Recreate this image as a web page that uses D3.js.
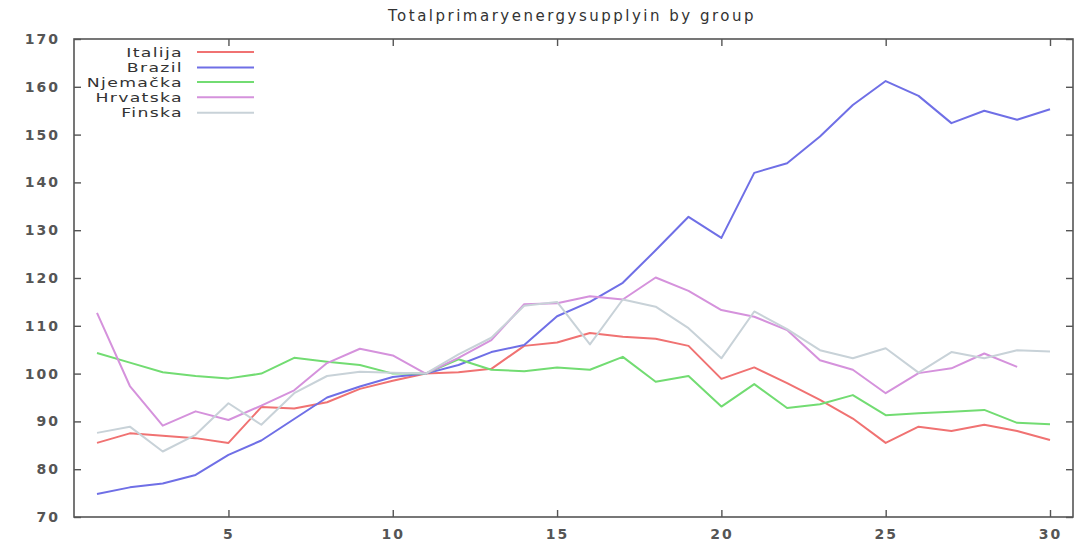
<!DOCTYPE html>
<html><head><meta charset="utf-8">
<script src="https://cdn.jsdelivr.net/npm/d3@7"></script>
<style>
body{margin:0;background:#fff;}
svg text{font-family:"DejaVu Sans",sans-serif;fill:#444;}
</style></head>
<body><svg id="c" width="1084" height="542"></svg>
<script>
const title = "Totalprimaryenergysupplyin by group";
const years = d3.range(1, 31);
const seriesNames = ["Italija", "Brazil", "Njemačka", "Hrvatska", "Finska"];
const italija = [85.5,87.5,87,86.5,85.5,93,92.7,94,96.8,98.5,100,100.3,101,105.8,106.5,108.5,107.7,107.3,105.8,98.9,101.3,98,94.5,90.6,85.5,88.9,88,89.3,88,86.1];
const brazil = [74.8,76.2,77,78.8,83,86,90.5,95,97.3,99.3,100,101.8,104.5,106,112,115,119,125.8,132.8,128.4,142,144,149.6,156.2,161.2,158.1,152.4,155,153.1,155.3];
const njemacka = [104.3,102.3,100.3,99.5,99,100,103.3,102.5,101.8,100,100,103,100.8,100.5,101.3,100.8,103.5,98.3,99.5,93.1,97.8,92.8,93.6,95.5,91.3,91.7,92,92.4,89.7,89.4];
const hrvatska = [112.7,97.4,89.1,92.1,90.3,93.3,96.5,102.2,105.2,103.8,100,103.3,107,114.5,114.7,116.2,115.5,120.1,117.3,113.3,111.9,109.1,102.8,100.8,95.9,100.1,101.1,104.2,101.4];
const finska = [87.6,88.9,83.7,87.2,93.8,89.3,95.9,99.5,100.4,100.2,100,104,107.5,114.2,115,106.1,115.5,114,109.5,103.2,113,109.3,104.9,103.2,105.3,100.2,104.5,103.2,104.9,104.6];
const yTicks = [70,80,90,100,110,120,130,140,150,160,170];
const xTicks = [5,10,15,20,25,30];
const colors = ["#f07272","#6f6fe6","#72dc72","#d592dc","#c8d2d8"];

const allSeries = [italija, brazil, njemacka, hrvatska, finska];
const svg = d3.select("#c");
const L = 74, R = 1073, T = 39, B = 517;
const x = d3.scaleLinear().domain([0.3, 30.7]).range([L, R]);
const y = d3.scaleLinear().domain([70, 170]).range([B, T]);

svg.append("text").attr("x", 572).attr("y", 21).attr("text-anchor", "middle")
  .style("font-size", "15px").style("letter-spacing", "2.5px").style("fill", "#333").text(title);

// frame
svg.append("rect").attr("x", L).attr("y", T).attr("width", R - L).attr("height", B - T)
  .attr("fill", "none").attr("stroke", "#555").attr("stroke-width", 1.6);

// left axis
const yAxis = d3.axisLeft(y).tickValues(yTicks).tickSize(-7).tickPadding(14);
const gy = svg.append("g").attr("transform", `translate(${L},0)`).call(yAxis);
gy.select(".domain").remove();
gy.selectAll("line").attr("stroke", "#555").attr("stroke-width", 1.4);
gy.selectAll("text").style("font-size", "14px").style("letter-spacing", "2px").style("font-weight", "bold").style("fill", "#555");
// right axis ticks
const gr = svg.append("g").attr("transform", `translate(${R},0)`).call(d3.axisRight(y).tickValues(yTicks).tickSize(-7).tickFormat(""));
gr.select(".domain").remove();
gr.selectAll("line").attr("stroke", "#555").attr("stroke-width", 1.4);

// bottom axis
const gx = svg.append("g").attr("transform", `translate(0,${B})`).call(d3.axisBottom(x).tickValues(xTicks).tickSize(-7).tickPadding(12));
gx.select(".domain").remove();
gx.selectAll("line").attr("stroke", "#555").attr("stroke-width", 1.4);
gx.selectAll("text").style("font-size", "14px").style("letter-spacing", "2px").style("font-weight", "bold").style("fill", "#555");
// top ticks
const gt = svg.append("g").attr("transform", `translate(0,${T})`).call(d3.axisTop(x).tickValues(xTicks).tickSize(-7).tickFormat(""));
gt.select(".domain").remove();
gt.selectAll("line").attr("stroke", "#555").attr("stroke-width", 1.4);

const line = d3.line().x((d, i) => x(years[i])).y(d => y(d));
allSeries.forEach((s, k) => {
  svg.append("path").datum(s).attr("d", line).attr("fill", "none")
    .attr("stroke", colors[k]).attr("stroke-width", 2).attr("stroke-linejoin", "round");
});

// legend
const legY = [52, 67.5, 82, 97.3, 112.7];
seriesNames.forEach((n, k) => {
  svg.append("text").attr("transform", `translate(183,${legY[k]}) scale(1.33,1)`)
    .attr("dy", "0.36em").attr("text-anchor", "end")
    .style("font-size", "13px").style("letter-spacing", "1px").style("fill", "#333").text(n);
  svg.append("line").attr("x1", 197).attr("x2", 254).attr("y1", legY[k]).attr("y2", legY[k])
    .attr("stroke", colors[k]).attr("stroke-width", 2);
});
</script></body></html>
